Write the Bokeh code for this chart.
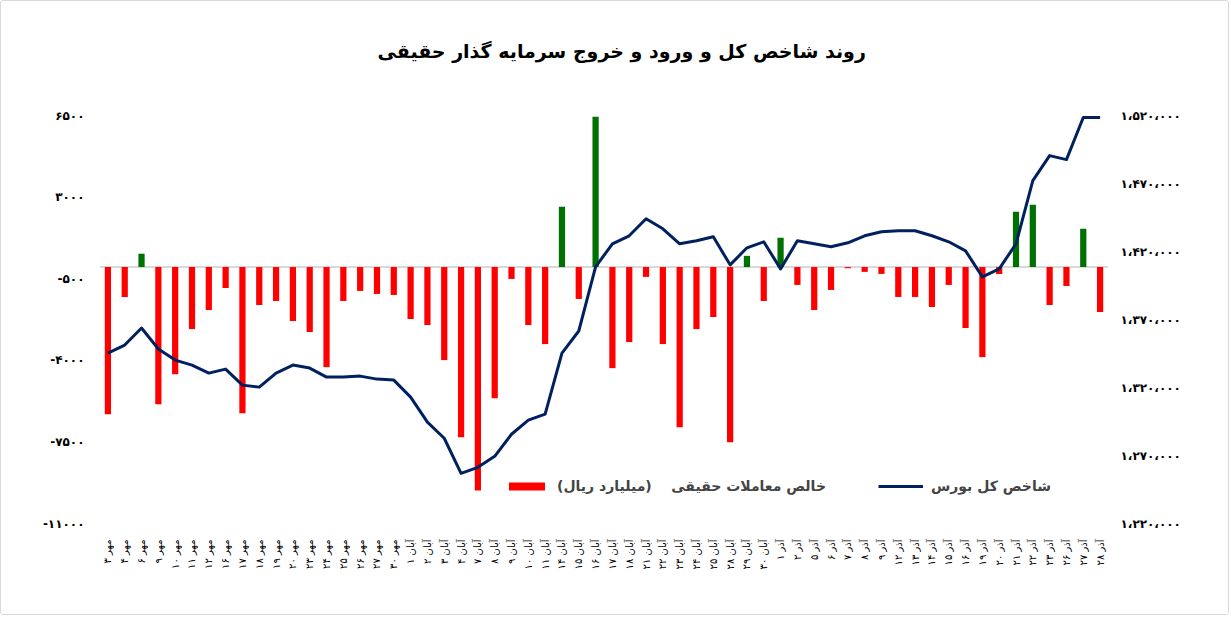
from math import pi
from bokeh.plotting import figure
from bokeh.models import (FactorRange, Range1d, LinearAxis, FixedTicker, Span,
                          Legend, LegendItem, ColumnDataSource, Title)
from bokeh.embed import file_html
from bokeh.resources import INLINE

FA = "DejaVu Sans"
DIG = "۰۱۲۳۴۵۶۷۸۹"

def fa(n):
    return "".join(DIG[int(c)] if c.isdigit() else c for c in str(n))

# ---- data ----
mehr_days = [3, 4, 6, 9, 10, 11, 12, 16, 17, 18, 19, 20, 23, 24, 25, 26, 27, 30]
aban_days = [1, 2, 3, 4, 7, 8, 9, 10, 11, 14, 15, 16, 17, 18, 21, 22, 23, 24, 25, 28, 29, 30]
azar_days = [1, 2, 5, 6, 7, 8, 9, 12, 13, 14, 15, 16, 19, 20, 21, 22, 23, 26, 27, 28]

categories = ([f"{fa(d)} مهر" for d in mehr_days]
              + [f"{fa(d)} آبان" for d in aban_days]
              + [f"{fa(d)} آذر" for d in azar_days])

net_real = [-6314, -1283, 566, -5884, -4594, -2659, -1842, -896, -6271, -1627,
            -1455, -2315, -2788, -4293, -1455, -1025, -1154, -1197, -2229, -2487,
            -3992, -7303, -9582, -5626, -509, -2487, -3304, 2587, -1369, 6450,
            -4336, -3218, -423, -3304, -6873, -2659, -2143, -7518, 480, -1455,
            1254, -767, -1842, -982, -50, -208, -294, -1283, -1283, -1713,
            -767, -2616, -3863, -300, 2372, 2673, -1627, -810, 1641, -1928]

total_index = [1345331, 1351227, 1363756, 1348279, 1340172, 1336487, 1330591, 1333539, 1321747, 1320273,
               1330591, 1336487, 1334276, 1327643, 1327643, 1328380, 1326169, 1325432, 1312903, 1294478,
               1282686, 1256891, 1261313, 1269420, 1285634, 1295952, 1300374, 1345331, 1361545, 1408713,
               1425664, 1431560, 1444089, 1436719, 1425664, 1427875, 1430823, 1410187, 1422716, 1427138,
               1407239, 1427875, 1425664, 1423453, 1426401, 1431560, 1434508, 1435245, 1435245, 1431560,
               1427138, 1420505, 1401343, 1407239, 1425664, 1472095, 1490520, 1487572, 1518526, 1518526]

left_ticks = [-11000, -7500, -4000, -500, 3000, 6500]
left_tick_labels = ["-۱۱۰۰۰", "-۷۵۰۰", "-۴۰۰۰", "-۵۰۰", "۳۰۰۰", "۶۵۰۰"]
right_ticks = [1220000, 1270000, 1320000, 1370000, 1420000, 1470000, 1520000]
right_tick_labels = ["۱،۲۲۰،۰۰۰", "۱،۲۷۰،۰۰۰", "۱،۳۲۰،۰۰۰", "۱،۳۷۰،۰۰۰",
                     "۱،۴۲۰،۰۰۰", "۱،۴۷۰،۰۰۰", "۱،۵۲۰،۰۰۰"]

title_text = "روند شاخص کل و ورود و خروج سرمایه گذار حقیقی"
bar_label = "خالص معاملات حقیقی\u00a0\u00a0\u00a0\u00a0(میلیارد ریال)"
line_label = "شاخص کل بورس"

colors = ["#FF0000" if v < 0 else "#007000" for v in net_real]
src = ColumnDataSource(dict(x=categories, v=net_real, c=colors, idx=total_index))

p = figure(width=1229, height=615, x_range=FactorRange(factors=categories),
           y_range=Range1d(-11000, 6500), output_backend="svg", toolbar_location=None,
           min_border_left=98, min_border_right=122, min_border_top=114, min_border_bottom=93)
p.extra_y_ranges = {"idx": Range1d(1220000, 1520000)}

# spacer panel (closest to the frame) then the real title above it
p.add_layout(Title(text="\u00a0", text_font=FA, text_font_size="19px", standoff=30), "above")
p.add_layout(Title(text=title_text, align="left", offset=278, text_font=FA,
                   text_font_size="19px", text_font_style="bold", text_color="black",
                   standoff=0), "above")

p.outline_line_color = None
p.xgrid.visible = False
p.ygrid.visible = False
p.styles = {"border": "1px solid #d9d9d9", "border-radius": "3px"}

p.add_layout(Span(location=0, dimension="width", line_color="#d9d9d9", line_width=2, level="underlay"))

bars = p.vbar(x="x", top="v", bottom=0, width=0.37, fill_color="c", line_color=None, source=src)
ln = p.line(x="x", y="idx", y_range_name="idx", line_color="#002060", line_width=3,
            line_join="round", source=src)

# left axis
ya = p.yaxis[0]
ya.ticker = FixedTicker(ticks=left_ticks)
ya.major_label_overrides = {t: l for t, l in zip(left_ticks, left_tick_labels)}
# right axis
ra = LinearAxis(y_range_name="idx", ticker=FixedTicker(ticks=right_ticks))
ra.major_label_overrides = {t: l for t, l in zip(right_ticks, right_tick_labels)}
p.add_layout(ra, "right")

for ax in (ya, ra):
    ax.axis_line_color = None
    ax.major_tick_line_color = None
    ax.minor_tick_line_color = None
    ax.major_label_text_font = FA
    ax.major_label_text_font_style = "bold"
    ax.major_label_text_color = "black"
ya.major_label_text_font_size = "12px"
ya.major_label_standoff = 9
ra.major_label_text_font_size = "12px"
ra.major_label_standoff = 6

xa = p.xaxis[0]
xa.axis_line_color = None
xa.major_tick_line_color = None
xa.minor_tick_line_color = None
xa.major_label_orientation = pi / 2
xa.major_label_text_font = FA
xa.major_label_text_font_size = "10px"
xa.major_label_text_color = "black"
xa.major_label_standoff = 10

legend = Legend(items=[LegendItem(label=bar_label, renderers=[bars], index=0),
                       LegendItem(label=line_label, renderers=[ln])],
                orientation="horizontal", location=(405, 29),
                background_fill_alpha=0, border_line_color=None,
                label_text_font=FA, label_text_font_style="bold", label_text_font_size="14px",
                glyph_width=45, glyph_height=10, spacing=52, label_standoff=8,
                padding=0, margin=0)
p.add_layout(legend, "center")

open("out.html", "w").write(file_html(p, INLINE))
